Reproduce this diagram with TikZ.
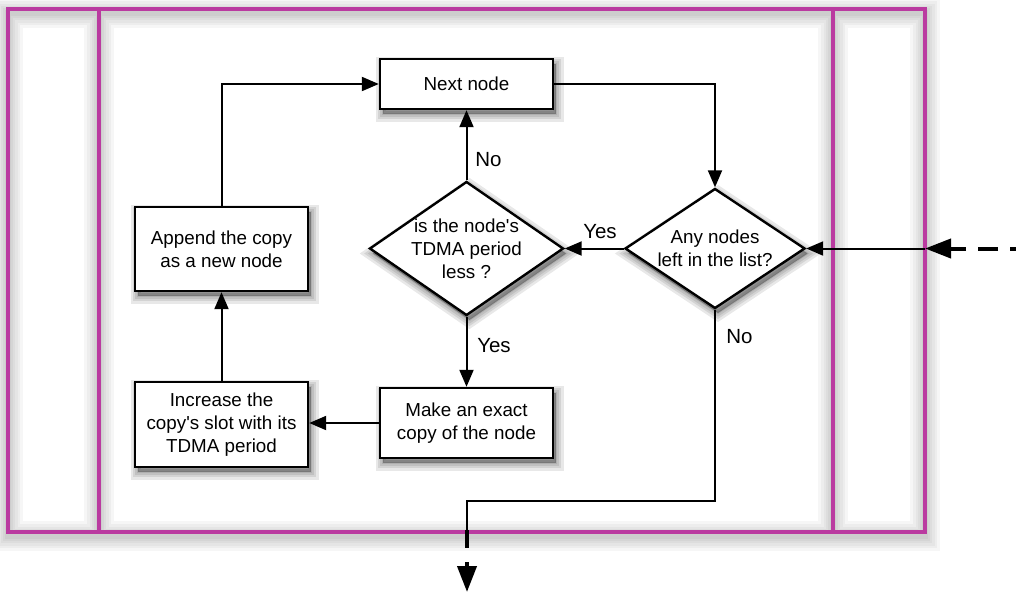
\documentclass[tikz,border=0pt]{standalone}
\usepackage{fontspec}
\setmainfont{Liberation Sans}
\usetikzlibrary{shapes.geometric,arrows.meta}
\definecolor{framecol}{RGB}{186,58,160}
\begin{document}
\begin{tikzpicture}[x=1pt,y=-1pt,
  shadowlayer/.style={preaction={fill=black, draw=black, opacity=0.09, line width=#1,
    transform canvas={xshift=3pt, yshift=-5pt}}},
  softshadow/.style={shadowlayer=15pt, shadowlayer=10pt, shadowlayer=6pt, shadowlayer=2pt},
  box/.style={draw=black, line width=2.4pt, fill=white, minimum width=173pt, align=center,
    font=\fontsize{18.8}{23}\selectfont, inner sep=0pt, softshadow},
  dec/.style={box, shape=diamond, inner sep=-8pt},
  conn/.style={line width=2pt, -{Triangle[length=17pt,width=14pt]}},
  plain/.style={line width=2pt},
  lab/.style={font=\fontsize{20.5}{24}\selectfont, inner sep=0pt, anchor=base},
  frameline/.style={draw=framecol, line width=3.5pt},
  framesh/.style={draw=black, opacity=0.035, yshift=-4pt},
  big/.style={line width=4pt, -{Triangle[length=26pt,width=19pt]}},
]
\useasboundingbox (0,0) rectangle (1016,592);
% frame shadow
\foreach \w in {30,24,19,14,10,6}{
  \draw[framesh, line width=\w pt] (8,9) rectangle (925,532) (99,9) -- (99,532) (833,9) -- (833,532);
}
% frame
\draw[frameline] (8,9) rectangle (925,532);
\draw[frameline] (99,9) -- (99,532);
\draw[frameline] (833,9) -- (833,532);

% nodes
\node[box, minimum height=50pt] (next) at (466.5,84) {Next node};
\node[box, minimum height=84pt] (append) at (221.5,249) {Append the copy\\as a new node};
\node[box, minimum height=85pt] (incr) at (221.5,424.5) {Increase the\\copy\textquotesingle s slot with its\\TDMA period};
\node[box, minimum height=70pt] (make) at (466.5,423) {Make an exact\\copy of the node};
\node[dec, minimum width=194pt, minimum height=134pt, shape aspect=1.45] (less) at (466.5,248.5) {is the node\textquotesingle s\\TDMA period\\less ?};
\node[dec, minimum width=180pt, minimum height=120pt, shape aspect=1.5] (any) at (715,248.5) {Any nodes\\left in the list?};

% connectors
\draw[conn] (next.east) -| (any.north);
\draw[conn] (any.west) -- (less.east);
\draw[conn] (less.north) -- (next.south);
\draw[conn] (less.south) -- (make.north);
\draw[conn] (make.west) -- (make.west -| incr.east);
\draw[conn] (incr.north) -- (append.south);
\draw[conn] (append.north) |- (next.west);

\coordinate (rin) at (925,248.5);
\coordinate (rout) at (1030,248.5);
\draw[conn] (rin) -- (any.east);
\draw[big, dash pattern=on 20pt off 12pt] (rout) -- (rin);

\coordinate (bturn) at (467,501);
\coordinate (bin) at (467,530);
\coordinate (bout) at (467,592);
\draw[plain] (any.south) |- (bturn) -- (bin);
\draw[big, dash pattern=on 18pt off 14pt] (bin) -- (bout);

% labels
\node[lab] (lyes1) at (600,238) {Yes};
\node[lab] (lno1) at (488.5,166) {No};
\node[lab] (lyes2) at (494,352) {Yes};
\node[lab] (lno2) at (739.5,343) {No};
\end{tikzpicture}
\end{document}
